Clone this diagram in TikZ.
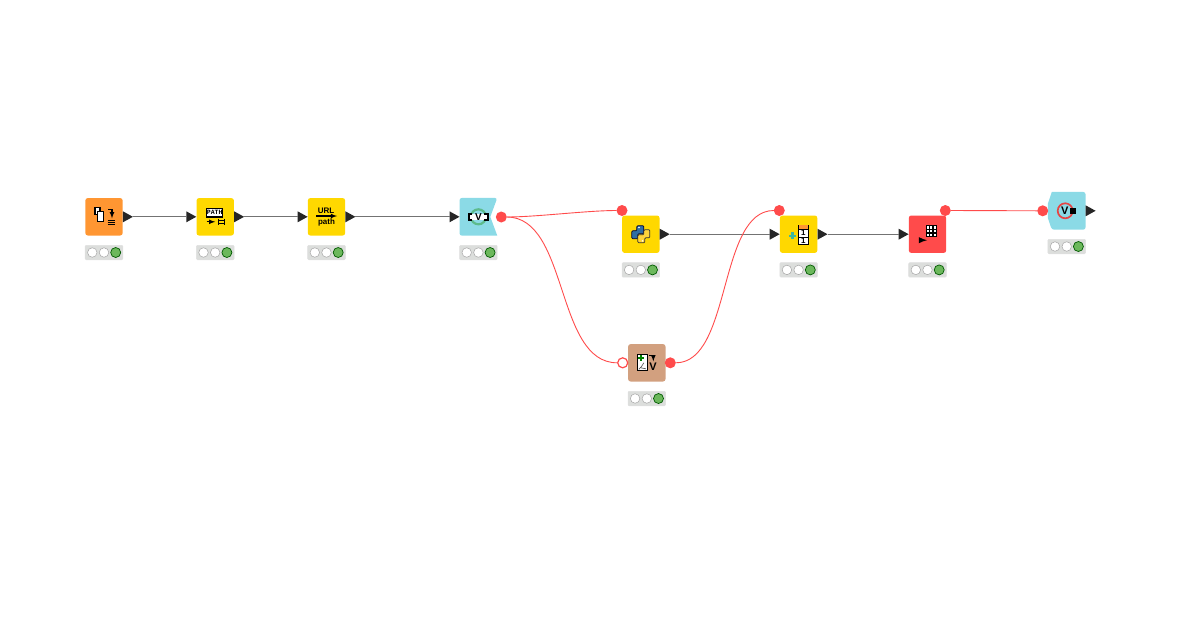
\documentclass[tikz,border=0pt]{standalone}
\usepackage{fontspec}
\setmainfont{Liberation Sans}
\newfontfamily\iconmono{Liberation Mono}
\usetikzlibrary{positioning}
\usetikzlibrary{shapes.geometric}

\definecolor{sourceorange}{HTML}{FF9632}
\definecolor{manipyellow}{HTML}{FFD800}
\definecolor{varblue}{HTML}{8BDAE6}
\definecolor{dbred}{HTML}{FF4B4B}
\definecolor{splitbrown}{HTML}{D2A07F}
\definecolor{barsilver}{HTML}{DCDEDC}
\definecolor{lightgreen}{HTML}{6CB85C}
\definecolor{pyblue}{HTML}{2F6EA5}
\definecolor{pyyellow}{HTML}{FFD43B}
\definecolor{plusteal}{HTML}{3EB8A0}
\definecolor{arrowgreen}{HTML}{5DBB8C}

\tikzset{
  knode/.style={rectangle, rounded corners=2.5pt, minimum size=37.4pt, inner sep=0pt},
  statbar/.style={rectangle, rounded corners=1pt, fill=barsilver, draw=black!12, line width=.5pt,
    minimum width=37.6pt, minimum height=14.5pt, inner sep=0pt},
  offlight/.style={circle, fill=white, draw=black!35, line width=.5pt, minimum size=9.5pt, inner sep=0pt},
  onlight/.style={circle, fill=lightgreen, draw=green!35!black, line width=.7pt, minimum size=10pt, inner sep=0pt},
  tableport/.style={isosceles triangle, isosceles triangle stretches, fill=black!85,
    minimum width=11pt, minimum height=10pt, inner sep=0pt, outer sep=0pt},
  varport/.style={circle, fill=dbred, minimum size=11pt, inner sep=0pt, outer sep=0pt},
  varholl/.style={circle, fill=white, draw=dbred, line width=1.2pt, minimum size=10pt, inner sep=0pt},
  tableflow/.style={draw=black!55, line width=.9pt},
  varflow/.style={draw=dbred, line width=.9pt},
  iconline/.style={draw=black, line width=1.1pt},
  iconlabel/.style={inner sep=0pt, font=\bfseries\fontsize{8}{8}\selectfont}
}

\begin{document}
\begin{tikzpicture}[x=1pt, y=-1pt]
    \useasboundingbox (0,0) rectangle (1200,630);

    % Define nodes
    \node[knode, fill=sourceorange]          (filesnode) at (104,216.8) {};
    \node[knode, fill=manipyellow, right=73.4pt of filesnode] (pathnode) {};
    \node[knode, fill=manipyellow, right=73.5pt of pathnode]  (urlnode) {};
    \node[knode, right=114.1pt of urlnode]   (varnode) {};
    \node[knode, fill=manipyellow]           (pynode) at (640.8,234.2) {};
    \node[knode, fill=manipyellow, right=120pt of pynode]   (joinnode) {};
    \node[knode, fill=dbred, right=91.1pt of joinnode]      (tablenode) {};
    \node[knode]                             (varoutnode) at (1066.7,210.8) {};
    \node[knode, fill=splitbrown]            (splitnode) at (646.8,362.8) {};

    % The two flow variable bodies
    \fill[varblue, rounded corners=2.5pt] (varnode.north west) -- (varnode.north east)
      [sharp corners] -- ([xshift=-7pt]varnode.east) -- (varnode.south east)
      [rounded corners=2.5pt] -- (varnode.south west) -- cycle;
    \fill[varblue, rounded corners=2.5pt] ([xshift=4pt]varoutnode.north west) -- (varoutnode.north east)
      -- (varoutnode.south east) -- ([xshift=4pt]varoutnode.south west)
      [sharp corners] -- ([yshift=12pt]varoutnode.south west) -- ([yshift=-12pt]varoutnode.north west) -- cycle;

    % Status bars
    \foreach \n in {filesnode,pathnode,urlnode,varnode,pynode,joinnode,tablenode,varoutnode,splitnode} {
      \node[statbar, below=9.3pt of \n] (\n-bar) {};
      \node[offlight, xshift=-11.7pt] (\n-red) at (\n-bar) {};
      \node[offlight]                 (\n-amber) at (\n-bar) {};
      \node[onlight, xshift=11.7pt]   (\n-green) at (\n-bar) {};
    }

    % Table ports
    \foreach \n in {filesnode,pathnode,urlnode,pynode,joinnode,varoutnode} {
      \node[tableport, anchor=lower side] (\n-out) at (\n.east) {};
    }
    \foreach \n in {pathnode,urlnode,varnode,joinnode,tablenode} {
      \node[tableport, anchor=apex] (\n-in) at (\n.west) {};
    }

    % Variable ports
    \node[varport] (varnode-var) at (501.3,217) {};
    \node[varport] (pynode-var) at (622,210.5) {};
    \node[varport] (joinnode-var) at (779.3,210.5) {};
    \node[varport] (tablenode-var) at (945.3,210.5) {};
    \node[varport] (varoutnode-var) at (1042.7,210.8) {};
    \node[varholl] (splitnode-in) at (622.7,362.8) {};
    \node[varport] (splitnode-var) at (670.3,362.8) {};

    % Connect the nodes
    \draw[tableflow] (filesnode-out.apex) -- (pathnode-in.lower side);
    \draw[tableflow] (pathnode-out.apex) -- (urlnode-in.lower side);
    \draw[tableflow] (urlnode-out.apex) -- (varnode-in.lower side);
    \draw[tableflow] (pynode-out.apex) -- (joinnode-in.lower side);
    \draw[tableflow] (joinnode-out.apex) -- (tablenode-in.lower side);
    \draw[varflow] (varnode-var.east) .. controls +(30,0) and +(-30,0) .. (pynode-var.west);
    \draw[varflow] (varnode-var.east) .. controls +(62,0) and +(-62,0) .. (splitnode-in.west);
    \draw[varflow] (splitnode-var.east) .. controls +(56,0) and +(-56,0) .. (joinnode-var.west);
    \draw[varflow] (tablenode-var.east) -- (varoutnode-var.west);

    % Icons
    \begin{scope}[shift={(filesnode.center)}]
      \draw[fill=white, line width=1.1pt] (-9,-9.5) rectangle (-4,-2);
      \draw[fill=white, line width=1.1pt] (-6.5,-5.5) rectangle (-.5,4.5);
      \draw[iconline, -latex] (4,-7) -- (8,-7) -- (8,1.5);
      \draw[iconline] (3.5,3.5) -- (11,3.5) (3.5,5.7) -- (11,5.7) (3.5,7.9) -- (11,7.9);
    \end{scope}
    \begin{scope}[shift={(pathnode.center)}]
      \node[draw=black, line width=1.2pt, fill=white, minimum width=16pt, minimum height=8.5pt, inner sep=0pt,
        font=\iconmono\bfseries\fontsize{6.5}{6.5}\selectfont] (pathtag) at (-.5,-4) {PATH};
      \draw[iconline, -latex] (-8.5,5) -- (0,5);
      \draw[iconline] (3.5,2) -- (3.5,8) (9,2) -- (9,8) (3.5,3.5) -- (9,3.5) (3.5,6.5) -- (9,6.5);
    \end{scope}
    \begin{scope}[shift={(urlnode.center)}]
      \node[iconlabel] (urltag) at (-.5,-6.3) {URL};
      \node[iconlabel] (pathword) at (0,5.2) {path};
      \draw[iconline, -latex] (-10.5,-.8) -- (10.5,-.8);
    \end{scope}
    \begin{scope}[shift={(varnode.center)}]
      \draw[arrowgreen, line width=2.2pt] (0,0) circle (7.5);
      \fill[white] (-10.5,-3.2) rectangle (10.5,3.2);
      \draw[line width=1.5pt] (-6,-3) -- (-9.5,-3) -- (-9.5,3) -- (-6,3);
      \draw[line width=1.5pt] (6,-3) -- (9.5,-3) -- (9.5,3) -- (6,3);
      \node[iconlabel, font=\bfseries\fontsize{10}{10}\selectfont] (vartag) at (0,0) {V};
    \end{scope}
    \begin{scope}[shift={(pynode.center)}]
      \draw[fill=pyblue, draw=black!80!blue, line width=.7pt, rounded corners=1pt]
        (-4,-8.5) -- (3,-8.5) -- (3,-.5) -- (-3,-.5) -- (-3,4.5) -- (-9,4.5) -- (-9,-3.5) -- (-4,-3.5) -- cycle;
      \draw[fill=pyyellow, draw=black!80, line width=.7pt, rounded corners=1pt]
        (4,8.5) -- (-3,8.5) -- (-3,.5) -- (3,.5) -- (3,-4.5) -- (9,-4.5) -- (9,3.5) -- (4,3.5) -- cycle;
      \fill[white] (-1.8,-6.7) circle (.8) (1.8,6.7) circle (.8);
    \end{scope}
    \begin{scope}[shift={(joinnode.center)}]
      \draw[plusteal, line width=2.3pt] (-9.5,1.5) -- (-2.5,1.5) (-6,-2) -- (-6,5);
      \fill[sourceorange] (0,-9) rectangle (9.5,-5);
      \draw[line width=1pt] (0,-9) -- (0,-5) (9.5,-9) -- (9.5,-5);
      \draw[fill=white, line width=1pt] (0,-5) rectangle (9.5,3);
      \draw[fill=white, line width=1pt] (0,3) rectangle (9.5,10);
      \node[iconlabel] (rowone) at (4.75,-1) {1};
      \node[iconlabel] (rowtwo) at (4.75,6.8) {1};
    \end{scope}
    \begin{scope}[shift={(tablenode.center)}]
      \fill[black] (-2,-9) rectangle (9,3);
      \foreach \i in {0,1,2} \foreach \j in {0,1,2} {
        \fill[white] (-1+3.5*\i,-8+3.7*\j) rectangle +(2.3,2.5);
      }
      \draw[line width=1.8pt, -latex] (-8.7,6) -- (-.5,6);
    \end{scope}
    \begin{scope}[shift={(varoutnode.center)}]
      \draw[dbred!90!black, line width=1.7pt] (-1.5,0) circle (7.5);
      \node[iconlabel, font=\bfseries\fontsize{11}{11}\selectfont] (vouttag) at (-2,0) {V};
      \fill[black] (3.5,-2.7) rectangle (9,2.7);
    \end{scope}
    \begin{scope}[shift={(splitnode.center)}]
      \draw[fill=white, line width=1.1pt] (-9.5,-8) rectangle (.5,8);
      \draw[green!50!black, line width=2pt] (-8.5,-4.5) -- (-2.5,-4.5) (-5.5,-7.5) -- (-5.5,-1.5);
      \draw[black!70, line width=.6pt] (-8,6.5) .. controls (-5,5) and (-5,2) .. (-3,0) (-6,5) -- (-1,6);
      \draw[line width=1.1pt, -latex] (2,-7) -- (6.5,-7) -- (6.5,-1.5);
      \node[iconlabel, font=\bfseries\fontsize{11}{11}\selectfont] (splittag) at (6.3,4.2) {V};
    \end{scope}
\end{tikzpicture}
\end{document}
